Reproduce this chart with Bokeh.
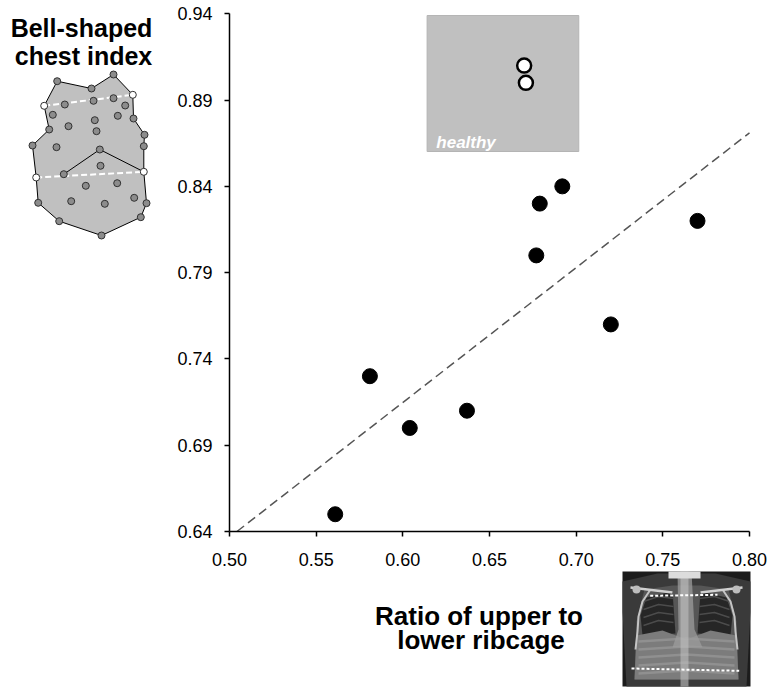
import numpy as np
from bokeh.plotting import figure
from bokeh.models import Range1d, FixedTicker, NumeralTickFormatter, LinearAxis
from bokeh.embed import file_html
from bokeh.resources import INLINE
from bokeh.core.properties import value

FONT = "Liberation Sans"

# ---------------- data ----------------
ratio_upper_lower = [0.561, 0.581, 0.604, 0.637, 0.677, 0.679, 0.692, 0.720, 0.770]
bell_index = [0.650, 0.730, 0.700, 0.710, 0.800, 0.830, 0.840, 0.760, 0.820]
healthy_ratio = [0.670, 0.671]
healthy_index = [0.910, 0.900]
x_ticks = [0.50, 0.55, 0.60, 0.65, 0.70, 0.75, 0.80]
y_ticks = [0.64, 0.69, 0.74, 0.79, 0.84, 0.89, 0.94]
healthy_box = [0.614, 0.7015, 0.8602, 0.939]  # left, right, bottom, top
healthy_label = "healthy"
y_title = ["Bell-shaped", "chest index"]
x_title = ["Ratio of upper to", "lower ribcage"]

# chest illustration (page pixel coordinates)
chest_x = [56.7, 43.7, 48.7, 32.0, 35.7, 37.7, 58.7, 101.0, 140.3, 146.0, 143.3, 143.3, 144.0, 133.0, 132.3, 113.0, 91.0]
chest_y = [80.7, 105.3, 129.0, 145.0, 177.0, 202.3, 220.7, 235.0, 216.7, 202.7, 171.3, 145.7, 134.3, 118.0, 94.3, 74.0, 88.0]
roof_x = [63.3, 99.3, 143.3]
roof_y = [173.7, 149.0, 171.3]
inner_x = [64.3, 93.0, 113.0, 124.7, 52.3, 94.3, 117.3, 68.0, 96.0, 56.0, 100.0, 85.3, 116.7, 70.7, 104.3, 133.7, 63.3, 99.3]
inner_y = [104.0, 100.3, 97.7, 105.0, 114.3, 119.7, 115.3, 125.7, 130.7, 146.7, 165.3, 185.3, 182.7, 200.7, 203.3, 197.3, 173.7, 149.0]
white_idx = [1, 4, 10, 14]

# ---------------- page geometry ----------------
W, H = 772, 691
FX0, FX1 = 229.0, 749.0   # page px of first / last x tick
FY0, FY1 = 531.0, 13.3    # page px of first / last y tick
sx = (x_ticks[-1] - x_ticks[0]) / (FX1 - FX0)
sy = (y_ticks[-1] - y_ticks[0]) / (FY0 - FY1)
xr = Range1d(x_ticks[0] - FX0 * sx, x_ticks[0] + (W - FX0) * sx)
yr = Range1d(y_ticks[0] - (H - FY0) * sy, y_ticks[-1] + FY1 * sy)

p = figure(width=W, height=H, x_range=xr, y_range=yr, output_backend="svg", toolbar_location=None,
           min_border=0, x_axis_location=None, y_axis_location=None)
p.title.visible = False
p.outline_line_color = None
p.grid.grid_line_color = None
p.background_fill_color = "white"
p.border_fill_color = "white"
p.extra_x_ranges = {"px": Range1d(0, W)}
p.extra_y_ranges = {"px": Range1d(H, 0)}

xaxis = LinearAxis(fixed_location=y_ticks[0], bounds=(x_ticks[0], x_ticks[-1]),
                   ticker=FixedTicker(ticks=x_ticks))
yaxis = LinearAxis(fixed_location=x_ticks[0], bounds=(y_ticks[0], y_ticks[-1]),
                   ticker=FixedTicker(ticks=y_ticks))
for ax in (xaxis, yaxis):
    ax.axis_line_width = 1.5
    ax.axis_line_color = "black"
    ax.major_tick_line_width = 1.5
    ax.major_tick_line_color = "black"
    ax.major_tick_out = 5
    ax.major_tick_in = 0
    ax.minor_tick_line_color = None
    ax.major_label_text_font = FONT
    ax.major_label_text_font_size = "18px"
    ax.major_label_text_color = "black"
    ax.formatter = NumeralTickFormatter(format="0.00")
xaxis.major_label_standoff = 16
yaxis.major_label_standoff = 12
p.add_layout(xaxis, "below")
p.add_layout(yaxis, "left")

# healthy inset
p.quad(left=[healthy_box[0]], right=[healthy_box[1]], bottom=[healthy_box[2]], top=[healthy_box[3]],
       fill_color="#c0c0c0", line_color="#b4b4b4", line_width=1)
p.text(x=[healthy_box[0] + 0.0053], y=[healthy_box[2] + 0.0054], text=[healthy_label],
       text_font=value(FONT), text_font_style="bold italic", text_font_size="17px",
       text_color="white", text_baseline="alphabetic", text_align="left")

# regression line
slope, intercept = np.polyfit(ratio_upper_lower, bell_index, 1)
lx0 = max(x_ticks[0], (y_ticks[0] - intercept) / slope)
fx = [lx0, x_ticks[-1]]
p.line(fx, [intercept + slope * v for v in fx], line_dash="9 5", line_color="#555555", line_width=1.5)

p.scatter(ratio_upper_lower, bell_index, size=15, fill_color="black", line_color="black")
p.scatter(healthy_ratio, healthy_index, size=14, fill_color="white", line_color="black", line_width=2.5)

PX = dict(x_range_name="px", y_range_name="px")

# ---------------- titles ----------------
p.text(x=[81, 83], y=[27.3, 55.0], text=y_title, text_font=value(FONT), text_font_style="bold",
       text_font_size="25px", text_align="center", text_baseline="alphabetic", text_color="black", **PX)
p.text(x=[478.5, 480.5], y=[615.0, 639.5], text=x_title, text_font=value(FONT), text_font_style="bold",
       text_font_size="26px", text_align="center", text_baseline="alphabetic", text_color="black", **PX)

# ---------------- chest illustration ----------------
p.patch(chest_x, chest_y, fill_color="#c0c0c0", line_color="black", line_width=1, **PX)
p.line(roof_x, roof_y, line_color="black", line_width=1, **PX)
p.line([chest_x[1], chest_x[14]], [chest_y[1], chest_y[14]], line_color="white", line_width=2, line_dash="6 3", **PX)
p.line([chest_x[4], chest_x[10]], [chest_y[4], chest_y[10]], line_color="white", line_width=2, line_dash="6 3", **PX)
gx = [v for i, v in enumerate(chest_x) if i not in white_idx] + inner_x
gy = [v for i, v in enumerate(chest_y) if i not in white_idx] + inner_y
p.scatter(gx, gy, size=7, fill_color="#8c8c8c", line_color="#303030", line_width=1, **PX)
p.scatter([chest_x[i] for i in white_idx], [chest_y[i] for i in white_idx], size=7,
          fill_color="white", line_color="#303030", line_width=1, **PX)

# ---------------- x-ray illustration (local coords, offset on page) ----------------
OX, OY = 622.0, 571.0


def xs(v):
    return [OX + a for a in v]


def ys(v):
    return [OY + a for a in v]


p.quad(left=[OX], right=[OX + 128], top=[OY], bottom=[OY + 115], fill_color="#1c1c1c", line_color=None, **PX)
p.patch(xs([0, 35, 93, 128, 128, 124, 4, 0]), ys([10, 2, 2, 10, 40, 115, 115, 40]),
        fill_color="#3a3a3a", line_color=None, **PX)
p.patch(xs([22, 50, 78, 106, 114, 116, 12, 14]), ys([18, 14, 14, 18, 50, 108, 108, 50]),
        fill_color="#565656", line_color=None, **PX)
p.patch(xs([24, 50, 53, 20, 18]), ys([26, 20, 62, 64, 44]), fill_color="#262626", line_color=None, **PX)
p.patch(xs([78, 104, 110, 108, 75]), ys([20, 26, 44, 64, 62]), fill_color="#262626", line_color=None, **PX)
p.patch(xs([14, 40, 64, 88, 114, 116, 12]), ys([64, 59, 68, 59, 64, 108, 108]),
        fill_color="#7c7c7c", line_color=None, **PX)
for yy in [70, 78, 86, 94, 102]:
    p.line(xs([16, 64, 112]), ys([yy, yy - 3, yy]), line_color="#a4a4a4", line_width=2.5, alpha=0.5, **PX)
for yy in [30, 38, 46, 54]:
    p.line(xs([21, 36, 51]), ys([yy, yy - 5, yy - 3]), line_color="#4c4c4c", line_width=1.5, **PX)
    p.line(xs([77, 92, 107]), ys([yy - 3, yy - 5, yy]), line_color="#4c4c4c", line_width=1.5, **PX)
p.line(xs([28, 20, 16, 15, 13]), ys([18, 30, 45, 60, 78]), line_color="#c4c4c4", line_width=2, **PX)
p.line(xs([100, 108, 112, 113, 115]), ys([18, 30, 45, 60, 78]), line_color="#c4c4c4", line_width=2, **PX)
p.patch(xs([55, 69, 72, 80, 50, 56]), ys([0, 0, 58, 76, 76, 58]), fill_color="#9c9c9c", fill_alpha=0.75,
        line_color=None, **PX)
p.quad(left=[OX + 58], right=[OX + 66], top=[OY], bottom=[OY + 115], fill_color="#c0c0c0", fill_alpha=0.6,
       line_color=None, **PX)
p.quad(left=[OX + 46], right=[OX + 78], top=[OY], bottom=[OY + 7], fill_color="#dcdcdc", line_color=None, **PX)
p.line(xs([8, 50]), ys([16, 21]), line_color="#cfcfcf", line_width=2.5, **PX)
p.line(xs([78, 120]), ys([21, 16]), line_color="#cfcfcf", line_width=2.5, **PX)
p.scatter(xs([14, 114]), ys([18, 18]), size=8, fill_color="#bdbdbd", line_color=None, **PX)
p.line(xs([27.7, 95.0]), ys([24.3, 23.3]), line_color="white", line_width=2, line_dash="3 2", **PX)
p.line(xs([9.0, 116.7]), ys([97.0, 99.3]), line_color="white", line_width=2, line_dash="3 2", **PX)

open("out.html", "w").write(file_html(p, INLINE))
